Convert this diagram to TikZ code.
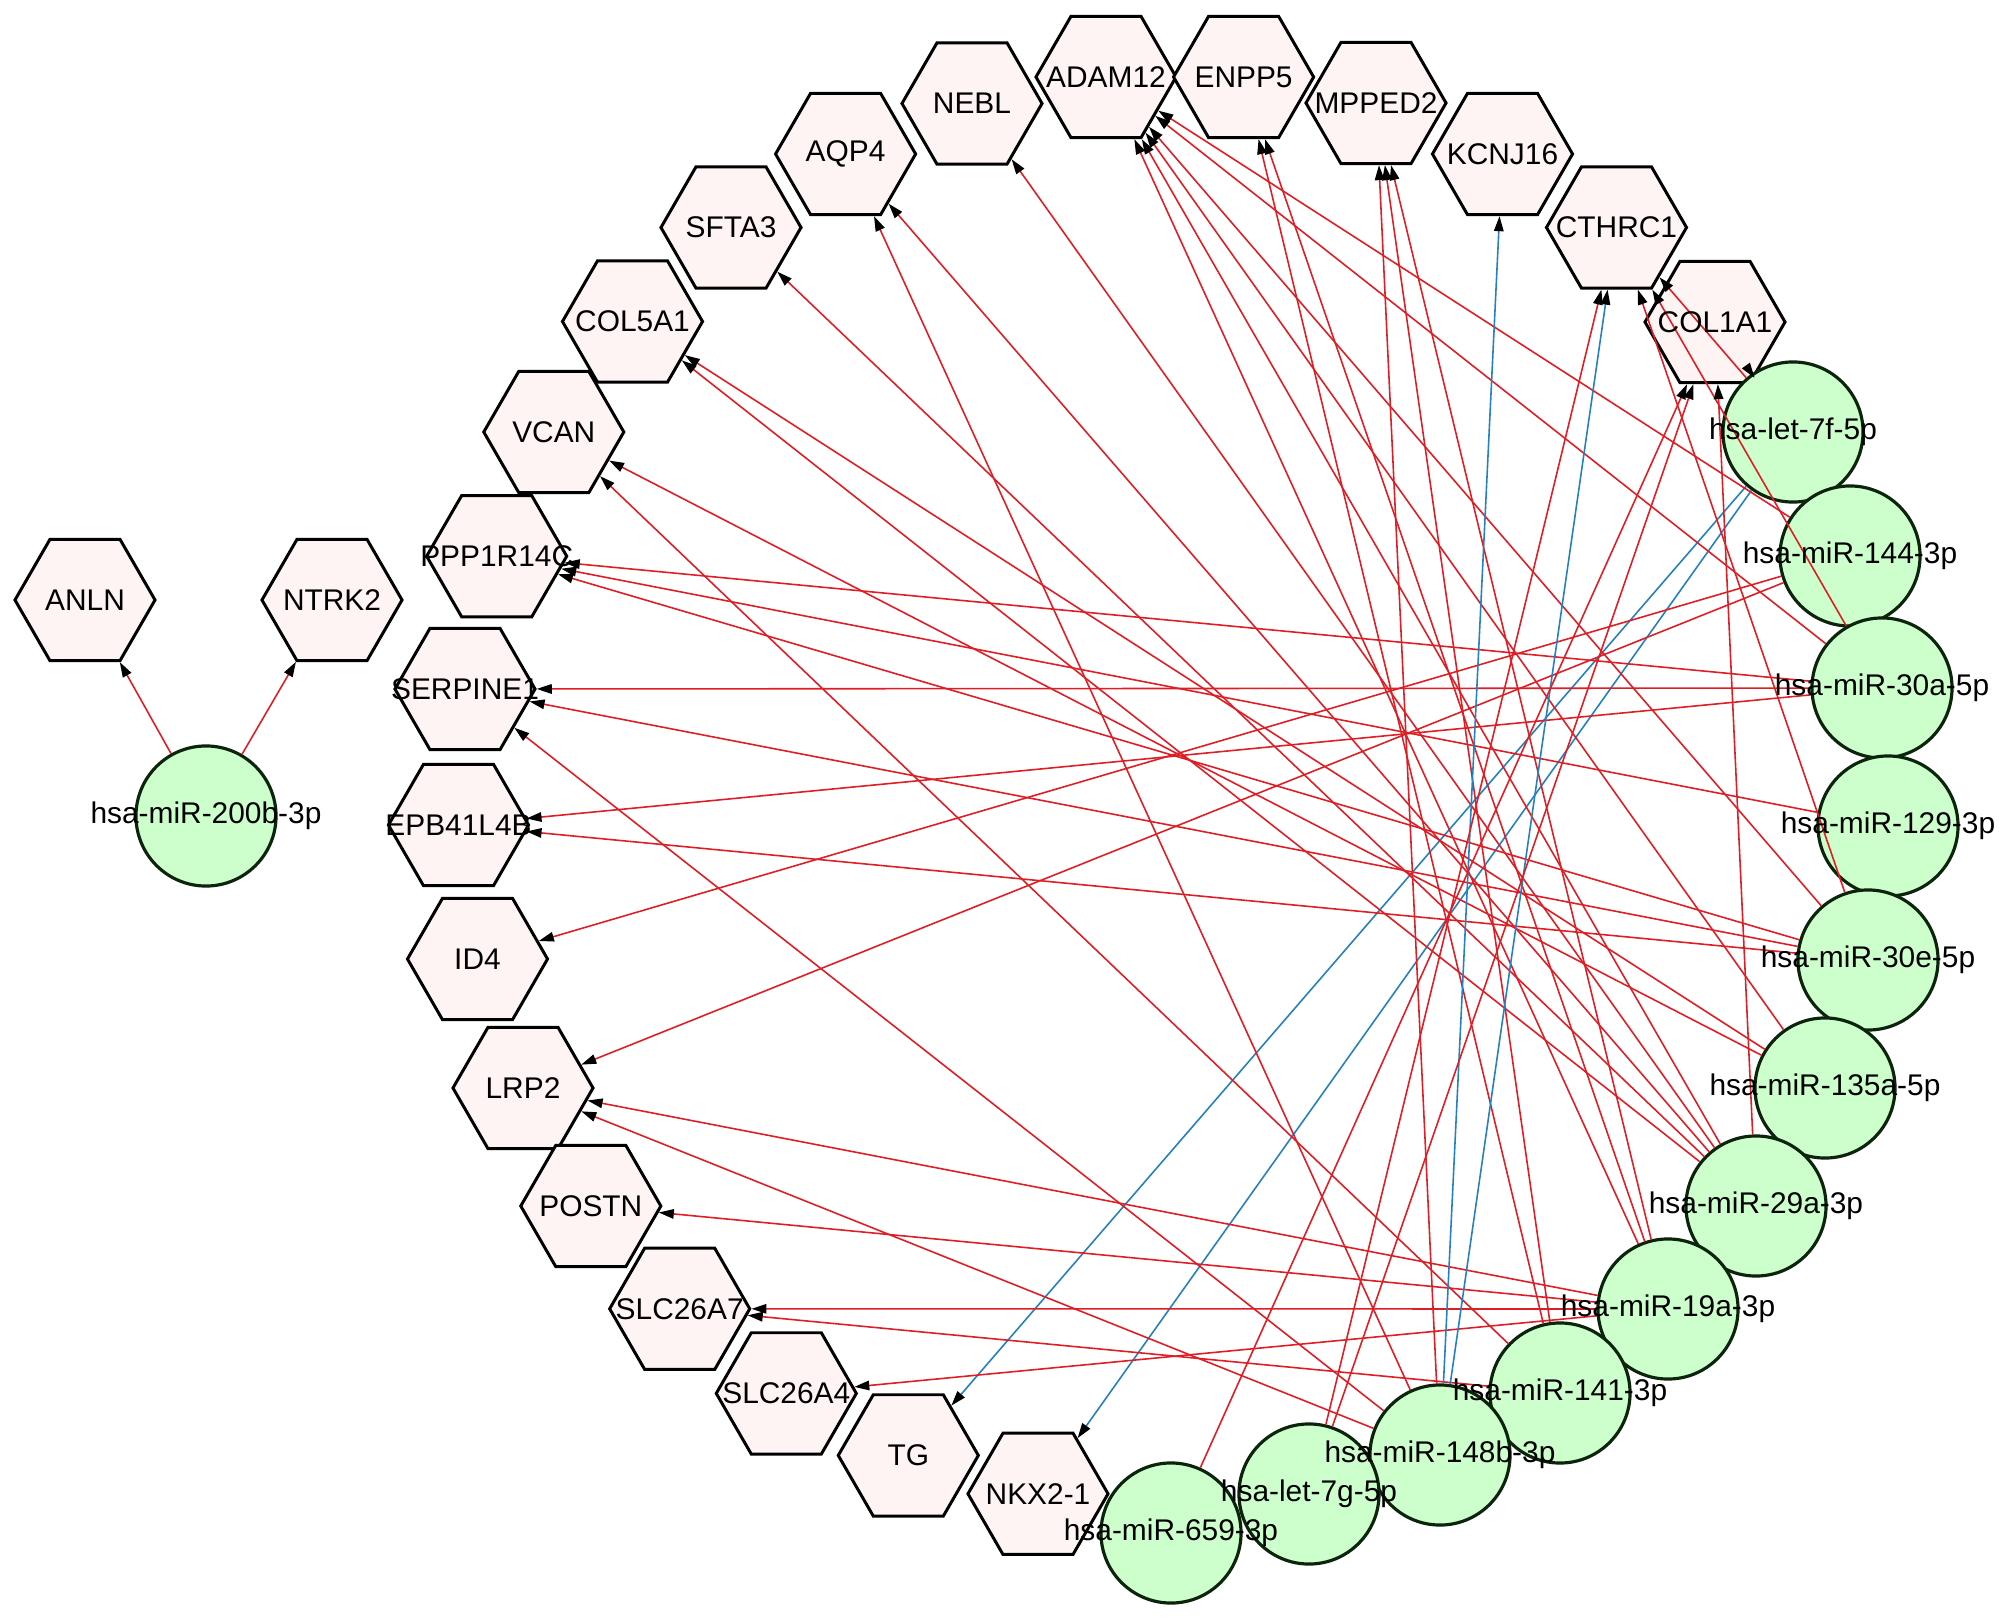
\documentclass[tikz,border=0pt]{standalone}
\usepackage{fontspec}
\setmainfont{Liberation Sans}
\usetikzlibrary{shapes.geometric,arrows.meta}
\definecolor{edgered}{RGB}{222,30,36}
\definecolor{edgeblue}{RGB}{38,128,190}
\definecolor{hexfill}{RGB}{255,244,244}
\definecolor{mirfill}{RGB}{204,255,204}
\definecolor{mirdraw}{RGB}{12,36,12}
\newcommand{\labfont}{\fontsize{8.5}{10}\selectfont}
\tikzset{
  hexnode/.style={regular polygon, regular polygon sides=6, minimum size=1.4cm, inner sep=0pt,
    draw=black, line width=0.85pt, fill=hexfill},
  mirnode/.style={circle, minimum size=1.4cm, inner sep=0pt,
    draw=mirdraw, line width=0.9pt, fill=mirfill},
  lab/.style={font=\labfont, inner sep=0pt, text=black},
  redge/.style={draw=edgered, line width=0.45pt, -{Triangle[length=0.15cm,width=0.095cm,color=black]}},
  bedge/.style={draw=edgeblue, line width=0.45pt, -{Triangle[length=0.15cm,width=0.095cm,color=black]}}
}
\begin{document}
\begin{tikzpicture}[x=0.01cm,y=-0.01cm]
\useasboundingbox (0,0) rectangle (2008,1621);
\fill[white] (0,0) rectangle (2008,1621);
% target genes
\node[hexnode] (anln)   at (85,600)      {};
\node[hexnode] (ntrk2)  at (332,600)     {};
\node[hexnode] (col5a1) at (632.5,321.5) {};
\node[hexnode] (sfta3)  at (731,227.5)   {};
\node[hexnode] (aqp4)   at (845.6,154)   {};
\node[hexnode] (nebl)   at (972,103.5)   {};
\node[hexnode] (adam12) at (1106,77)     {};
\node[hexnode] (enpp5)  at (1243.6,77)   {};
\node[hexnode] (mpped2) at (1376,103)    {};
\node[hexnode] (kcnj16) at (1502.5,154)  {};
\node[hexnode] (cthrc1) at (1616.5,227.5){};
\node[hexnode] (col1a1) at (1715,322)    {};
\node[hexnode] (vcan)   at (553.8,432)   {};
\node[hexnode] (ppp)    at (496.7,556.2) {};
\node[hexnode] (serpine) at (465,689)    {};
\node[hexnode] (epb)    at (458.5,825)   {};
\node[hexnode] (id4)    at (477.5,959)   {};
\node[hexnode] (lrp2)   at (523,1088)    {};
\node[hexnode] (postn)  at (590.8,1206)  {};
\node[hexnode] (slca7)  at (679.7,1308.8){};
\node[hexnode] (slca4)  at (786.3,1393.4){};
\node[hexnode] (tg)     at (908.3,1455.4){};
\node[hexnode] (nkx)    at (1038,1493.8) {};
% miRNAs
\node[mirnode] (m200b) at (206,816)   {};
\node[mirnode] (l7f)   at (1793,432)  {};
\node[mirnode] (m144)  at (1850,556)  {};
\node[mirnode] (m30a)  at (1882,688)  {};
\node[mirnode] (m129)  at (1888,826)  {};
\node[mirnode] (m30e)  at (1868,960)  {};
\node[mirnode] (m135a) at (1825,1088) {};
\node[mirnode] (m29a)  at (1756,1206) {};
\node[mirnode] (m19a)  at (1668,1309) {};
\node[mirnode] (m141)  at (1560,1393) {};
\node[mirnode] (m148b) at (1440,1455) {};
\node[mirnode] (l7g)   at (1309,1494) {};
\node[mirnode] (m659)  at (1171,1533) {};
% edges
\foreach \t in {anln,ntrk2} \draw[redge] (m200b) -- (\t);
\foreach \t in {tg,nkx} \draw[bedge] (l7f) -- (\t);
\foreach \t in {col1a1,cthrc1} \draw[redge] (l7f) -- (\t);
\foreach \t in {adam12,id4,lrp2} \draw[redge] (m144) -- (\t);
\foreach \t in {adam12,cthrc1,ppp,serpine,epb} \draw[redge] (m30a) -- (\t);
\draw[redge] (m129) -- (ppp);
\foreach \t in {adam12,cthrc1,ppp,serpine,epb} \draw[redge] (m30e) -- (\t);
\foreach \t in {col5a1,vcan,adam12} \draw[redge] (m135a) -- (\t);
\foreach \t in {nebl,aqp4,sfta3,col5a1,adam12,col1a1} \draw[redge] (m29a) -- (\t);
\foreach \t in {adam12,enpp5,mpped2,lrp2,postn,slca7,slca4} \draw[redge] (m19a) -- (\t);
\foreach \t in {vcan,enpp5,mpped2,slca7} \draw[redge] (m141) -- (\t);
\foreach \t in {aqp4,mpped2,serpine,lrp2} \draw[redge] (m148b) -- (\t);
\foreach \t in {kcnj16,cthrc1} \draw[bedge] (m148b) -- (\t);
\foreach \t in {cthrc1,col1a1} \draw[redge] (l7g) -- (\t);
\draw[redge] (m659) -- (col1a1);
% labels on top
\foreach \n/\s in {anln/ANLN, ntrk2/NTRK2, col5a1/COL5A1, sfta3/SFTA3, aqp4/AQP4, nebl/NEBL,
  adam12/ADAM12, enpp5/ENPP5, mpped2/MPPED2, kcnj16/KCNJ16, cthrc1/CTHRC1, col1a1/COL1A1,
  vcan/VCAN, ppp/PPP1R14C, serpine/SERPINE1, epb/EPB41L4B, id4/ID4, lrp2/LRP2, postn/POSTN,
  slca7/SLC26A7, slca4/SLC26A4, tg/TG, nkx/NKX2-1,
  m200b/hsa-miR-200b-3p, l7f/hsa-let-7f-5p, m144/hsa-miR-144-3p, m30a/hsa-miR-30a-5p,
  m129/hsa-miR-129-3p, m30e/hsa-miR-30e-5p, m135a/hsa-miR-135a-5p, m29a/hsa-miR-29a-3p,
  m19a/hsa-miR-19a-3p, m141/hsa-miR-141-3p, m148b/hsa-miR-148b-3p, l7g/hsa-let-7g-5p,
  m659/hsa-miR-659-3p}
  \node[lab] (\n-t) at (\n.center) {\s};
\end{tikzpicture}
\end{document}
